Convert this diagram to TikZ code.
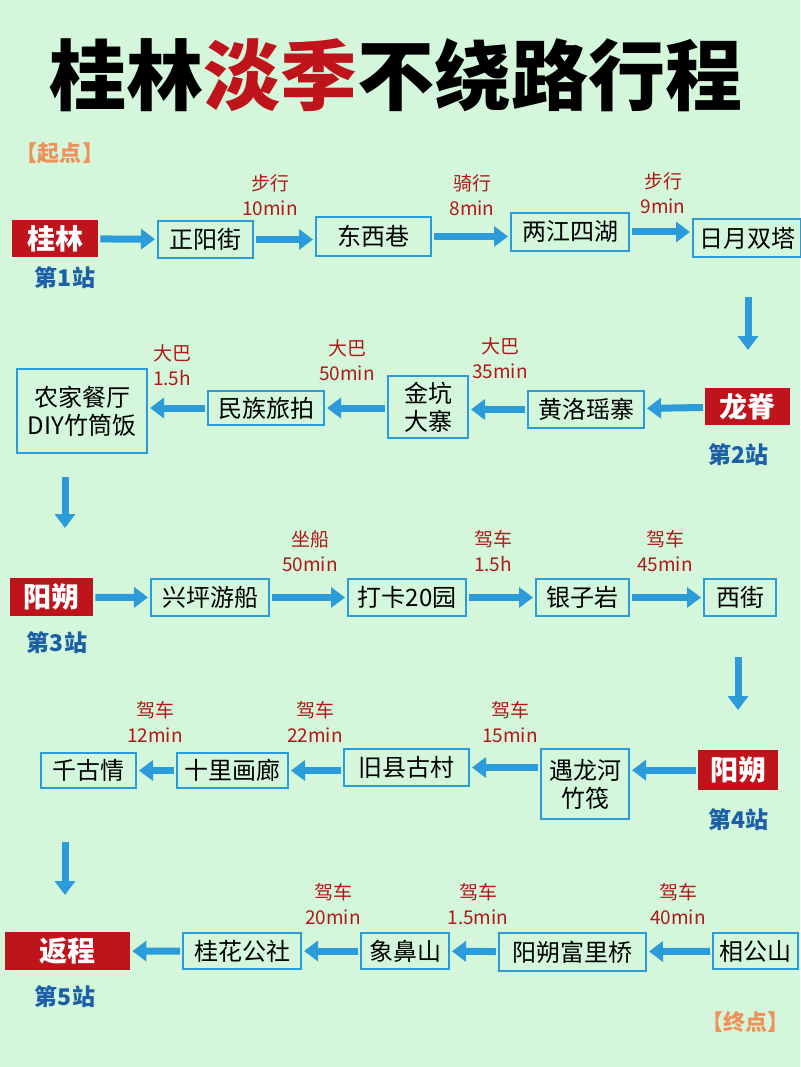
\documentclass[tikz,border=0pt]{standalone}
\usepackage{fontspec}
\setmainfont{Noto Sans CJK SC}
\usetikzlibrary{arrows.meta}
\definecolor{bg}{HTML}{D4F7DC}
\definecolor{bl}{HTML}{2B9BD9}
\definecolor{rd}{HTML}{C0141C}
\definecolor{lb}{HTML}{B01818}
\definecolor{st}{HTML}{1A5FA8}
\definecolor{og}{HTML}{F0905A}
\tikzset{
 x=1pt,y=-1pt,
 bx/.style={draw=bl,line width=2pt,font=\fontsize{24}{28}\selectfont,inner sep=0pt,anchor=north west,align=center},
 rb/.style={fill=rd,text=white,font=\bfseries\fontsize{28}{32}\selectfont,inner sep=0pt,anchor=north west},
 lab/.style={text=lb,font=\fontsize{19}{25}\selectfont,align=center},
 stn/.style={text=st,font=\bfseries\fontsize{23}{26}\selectfont},
 ar/.style={bl,line width=7pt,-{Triangle[length=14pt,width=20pt]},shorten >=2pt,shorten <=2pt},
}
\newcommand\bxx[6]{\node[bx,minimum width=#4-#2,minimum height=#5-#3] (#1) at (#2,#3) {#6};}
\newcommand\rbx[6]{\node[rb,minimum width=#4-#2,minimum height=#5-#3] (#1) at (#2,#3) {#6};}
\begin{document}
\begin{tikzpicture}
\fill[bg] (0,0) rectangle (800,1067);
\useasboundingbox (0,0) rectangle (800,1067);
\node[font=\bfseries\fontsize{77}{84}\selectfont] (t) at (396,75) {桂林\textcolor{rd}{淡季}不绕路行程};
\node[text=og,font=\bfseries\fontsize{22}{26}\selectfont] (s) at (60,153) {【起点】};
\node[text=og,font=\bfseries\fontsize{22}{26}\selectfont] (e) at (745,1022) {【终点】};
% row1
\rbx{r1}{12}{220}{98}{257}{桂林}
\bxx{a1}{157}{220}{252}{257}{正阳街}
\bxx{a2}{315}{216}{430}{255}{东西巷}
\bxx{a3}{510}{212}{628}{250}{两江四湖}
\bxx{a4}{692}{218}{800}{256}{日月双塔}
\node[stn] (s1) at (65,278) {第1站};
\node[lab] (l11) at (270,195) {步行\\10min};
\node[lab] (l12) at (472,195) {骑行\\8min};
\node[lab] (l13) at (663,193) {步行\\9min};
\draw[ar] (r1) -- (a1); \draw[ar] (a1) -- (a2.west|-a1); \draw[ar] (a2.east) -- (a3.west|-a2.east); \draw[ar] (a3.east) -- (a4.west|-a3.east);
\coordinate (d1a) at (748,295); \coordinate (d1b) at (748,352);
\draw[ar] (d1a) -- (d1b);
% row2
\rbx{r2}{705}{388}{790}{425}{龙脊}
\bxx{b1}{527}{390}{643}{427}{黄洛瑶寨}
\bxx{b2}{387}{375}{467}{437}{金坑\\大寨}
\bxx{b3}{207}{390}{323}{424}{民族旅拍}
\bxx{b4}{16}{368}{146}{452}{农家餐厅\\DIY竹筒饭}
\node[stn] (s2) at (738,455) {第2站};
\node[lab] (l21) at (500,358) {大巴\\35min};
\node[lab] (l22) at (347,360) {大巴\\50min};
\node[lab] (l23) at (172,365) {大巴\\1.5h};
\draw[ar] (r2) -- (b1); \draw[ar] (b1) -- (b2.east|-b1); \draw[ar] (b2.west|-b3) -- (b3); \draw[ar] (b3) -- (b4.east|-b3);
\coordinate (d2a) at (65,475); \coordinate (d2b) at (65,530);
\draw[ar] (d2a) -- (d2b);
% row3
\rbx{r3}{10}{578}{93}{616}{阳朔}
\bxx{c1}{150}{578}{268}{615}{兴坪游船}
\bxx{c2}{347}{578}{465}{615}{打卡20园}
\bxx{c3}{535}{578}{628}{615}{银子岩}
\bxx{c4}{703}{578}{775}{615}{西街}
\node[stn] (s3) at (57,643) {第3站};
\node[lab] (l31) at (310,551) {坐船\\50min};
\node[lab] (l32) at (493,551) {驾车\\1.5h};
\node[lab] (l33) at (665,551) {驾车\\45min};
\draw[ar] (r3) -- (c1); \draw[ar] (c1) -- (c2); \draw[ar] (c2) -- (c3); \draw[ar] (c3) -- (c4);
\coordinate (d3a) at (738,655); \coordinate (d3b) at (738,712);
\draw[ar] (d3a) -- (d3b);
% row4
\rbx{r4}{698}{750}{778}{790}{阳朔}
\bxx{e1}{540}{748}{628}{818}{遇龙河\\竹筏}
\bxx{e2}{343}{748}{468}{785}{旧县古村}
\bxx{e3}{176}{752}{287}{787}{十里画廊}
\bxx{e4}{40}{752}{135}{787}{千古情}
\node[stn] (s4) at (738,820) {第4站};
\node[lab] (l41) at (510,722) {驾车\\15min};
\node[lab] (l42) at (315,722) {驾车\\22min};
\node[lab] (l43) at (155,722) {驾车\\12min};
\draw[ar] (r4) -- (e1.east|-r4); \draw[ar] (e1.west|-e2) -- (e2); \draw[ar] (e2.west|-e3) -- (e3); \draw[ar] (e3) -- (e4);
\coordinate (d4a) at (65,840); \coordinate (d4b) at (65,897);
\draw[ar] (d4a) -- (d4b);
% row5
\rbx{r5}{5}{932}{130}{970}{返程}
\bxx{f1}{712}{932}{797}{968}{相公山}
\bxx{f2}{498}{932}{645}{970}{阳朔富里桥}
\bxx{f3}{360}{932}{448}{968}{象鼻山}
\bxx{f4}{182}{932}{300}{968}{桂花公社}
\node[stn] (s5) at (65,997) {第5站};
\node[lab] (l51) at (678,904) {驾车\\40min};
\node[lab] (l52) at (478,904) {驾车\\1.5min};
\node[lab] (l53) at (333,904) {驾车\\20min};
\draw[ar] (f1) -- (f2); \draw[ar] (f2) -- (f3); \draw[ar] (f3) -- (f4); \draw[ar] (f4) -- (r5);
\end{tikzpicture}
\end{document}
